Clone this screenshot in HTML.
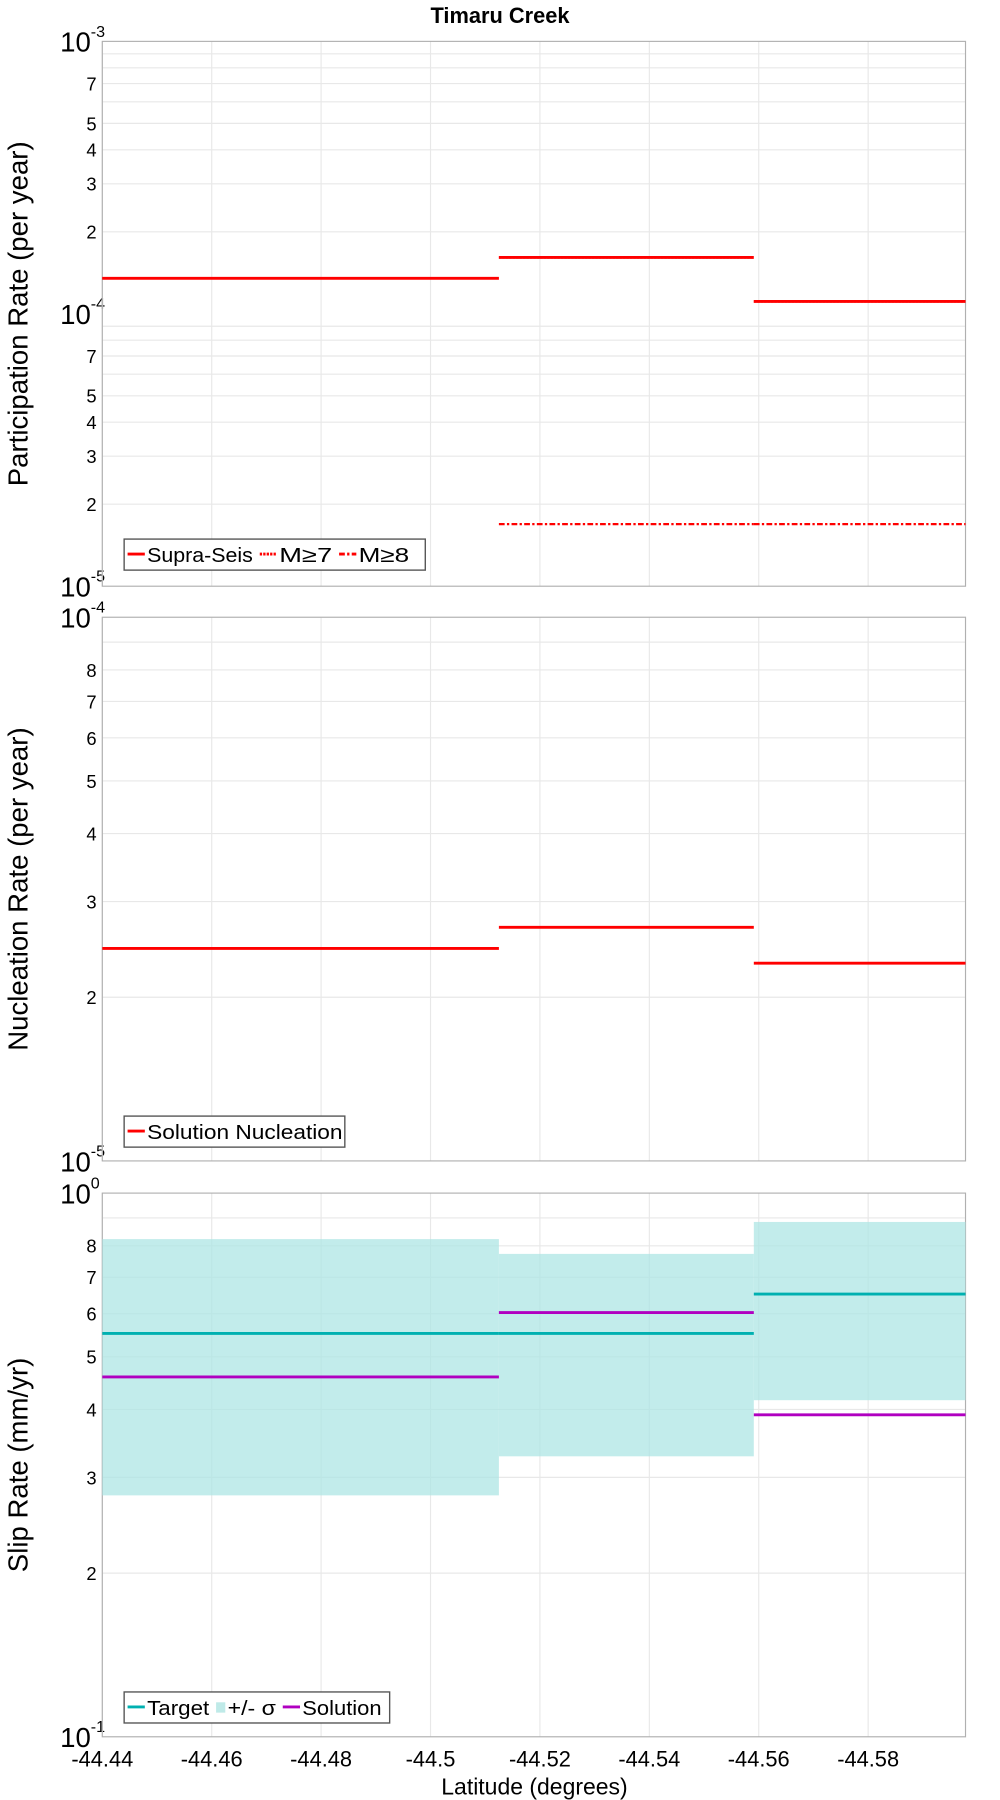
<!DOCTYPE html>
<html><head><meta charset="utf-8"><style>
html,body{margin:0;padding:0;background:#fff}
svg{display:block}
text{font-family:"Liberation Sans","DejaVu Sans",sans-serif;fill:#000}
</style></head><body>
<svg id="chart" width="1000" height="1800" viewBox="0 0 870 1566" preserveAspectRatio="none" xmlns="http://www.w3.org/2000/svg">
<text x="435" y="20" text-anchor="middle" font-size="19" font-weight="bold">Timaru Creek</text>
<g id="layer"></g>
</svg>
<script>
// ---- data ----
const segStart = [-44.44, -44.5125, -44.5591];
const segEnd = [-44.5125, -44.5591, -44.5978];
const xTicks = [-44.44, -44.46, -44.48, -44.5, -44.52, -44.54, -44.56, -44.58];
const xTickLabels = ["-44.44","-44.46","-44.48","-44.5","-44.52","-44.54","-44.56","-44.58"];
const supraSeis = [1.35e-4, 1.61e-4, 1.11e-4];
const m7 = [1.35e-4, 1.61e-4, 1.11e-4];
const m8 = [null, 1.69e-5, 1.69e-5];
const nucleation = [2.46e-5, 2.69e-5, 2.31e-5];
const slipTarget = [0.552, 0.552, 0.652];
const slipSolution = [0.459, 0.603, 0.391];
const slipUpper = [0.823, 0.773, 0.885];
const slipLower = [0.278, 0.328, 0.416];

const NS = "http://www.w3.org/2000/svg";
const layer = document.getElementById('layer');
function mk(tag, attrs, parent){ const e=document.createElementNS(NS,tag); for(const k in attrs) e.setAttribute(k,attrs[k]); (parent||layer).appendChild(e); return e; }

const L=89, R=840, X0=-44.44, X1=-44.5978;
function xs(v){ return L + (v-X0)/(X1-X0)*(R-L); }

function panel(top,bottom,lmin,lmax,labeled,yTitle,name){
  const g = mk('g',{});
  
  
  const ys = v => bottom - (Math.log10(v)-lmin)/(lmax-lmin)*(bottom-top);
  for(let d=lmin; d<lmax; d++){
    for(let m=1;m<=9;m++){
      const v=m*Math.pow(10,d); const y=ys(v);
      if(m>1){
        const gl=mk('line',{x1:L,x2:R,y1:y,y2:y,stroke:'#e8e8e8','stroke-width':1},g);
        
        
        if(labeled.includes(m)){
          const t=mk('text',{x:L-5,y:y+6,'text-anchor':'end','font-size':16},g);
          t.textContent=String(m);
          
          
        }
      }
    }
  }
  for(let d=lmin; d<=lmax; d++){
    const y=ys(Math.pow(10,d));
    const t=mk('text',{x:L-10,y:y+9,'text-anchor':'end','font-size':24},g);
    t.textContent='10';
    
    
    const s=mk('text',{x:L-10,y:y-4,'font-size':14},g);
    s.textContent=String(d);
    
    
  }
  xTicks.forEach(v=>{
    const x=xs(v);
    const gl=mk('line',{x1:x,x2:x,y1:top,y2:bottom,stroke:'#e8e8e8','stroke-width':1},g);
    
    
  });
  const fr=mk('rect',{x:L,y:top,width:R-L,height:bottom-top,fill:'none',stroke:'#b0b0b0','stroke-width':1},g);
  
  
  const cy=(top+bottom)/2;
  const yt=mk('text',{x:0,y:0,'text-anchor':'middle','font-size':24,transform:`translate(24,${cy}) rotate(-90)`},g);
  yt.textContent=yTitle;
  
  
  return {g,ys};
}
function seg(g,ys,vals,color,w,dash,name){
  vals.forEach((v,i)=>{
    if(v==null) return;
    const a={x1:xs(segStart[i]),x2:xs(segEnd[i]),y1:ys(v),y2:ys(v),stroke:color,'stroke-width':w};
    if(dash) a['stroke-dasharray']=dash;
    const l=mk('line',a,g);
    
    
  });
}
function legend(g,x,y,w,items){
  const r=mk('rect',{x:x,y:y,width:w,height:27,fill:'#fff',stroke:'#555','stroke-width':1.2},g);
  
  
  let cx=x+3;
  items.forEach(it=>{
    const sw = it.box ? mk('rect',{x:cx,y:y+9,width:8,height:9,fill:it.color},g)
      : mk('line',Object.assign({x1:cx,x2:cx+15,y1:y+13,y2:y+13,stroke:it.color,'stroke-width':2.5}, it.dash?{'stroke-dasharray':it.dash}:{}),g);
    
    
    cx += it.box?10:17;
    const t=mk('text',{x:cx,y:y+20,'font-size':18,textLength:it.tw-6,lengthAdjust:'spacingAndGlyphs'},g);
    t.textContent=it.label;
    
    
    cx += it.tw;
  });
}

// Panel 1
const p1=panel(36,510,-5,-3,[2,3,4,5,7],'Participation Rate (per year)','participation-panel');
seg(p1.g,p1.ys,supraSeis,'#ff0000',2.5,null,'supra-seis-line');
seg(p1.g,p1.ys,m7,'#ff0000',2,'2,1','m7-line');
seg(p1.g,p1.ys,m8,'#ff0000',2,'5,2,2,2','m8-line');
legend(p1.g,108,469,262,[{label:'Supra-Seis',color:'#f00',tw:98},{label:'M≥7',color:'#f00',dash:'2,1',tw:52},{label:'M≥8',color:'#f00',dash:'5,2,2,2',tw:50}]);

// Panel 2
const p2=panel(537,1010,-5,-4,[2,3,4,5,6,7,8],'Nucleation Rate (per year)','nucleation-panel');
seg(p2.g,p2.ys,nucleation,'#ff0000',2.5,null,'nucleation-line');
legend(p2.g,108,971,192,[{label:'Solution Nucleation',color:'#f00',tw:176}]);

// Panel 3
const p3=panel(1038,1511,-1,0,[2,3,4,5,6,7,8],'Slip Rate (mm/yr)','slip-rate-panel');
slipUpper.forEach((u,i)=>{
  const x1=xs(segStart[i]), x2=xs(segEnd[i]);
  const r=mk('rect',{x:x1,y:p3.ys(u),width:x2-x1,height:p3.ys(slipLower[i])-p3.ys(u),fill:'#aee6e4','fill-opacity':0.75},p3.g);
  
  
});
seg(p3.g,p3.ys,slipTarget,'#00b0b0',2.5,null,'target-line');
seg(p3.g,p3.ys,slipSolution,'#b000c0',2.5,null,'solution-line');
legend(p3.g,108,1472,231,[{label:'Target',color:'#00b0b0',tw:60},{label:'+/- σ',color:'#bfeae8',box:true,tw:48},{label:'Solution',color:'#b000c0',tw:75}]);

// x-axis labels
xTicks.forEach((v,i)=>{
  const t=mk('text',{x:xs(v),y:1537,'text-anchor':'middle','font-size':19});
  t.textContent=xTickLabels[i];
  
  
});
const xt=mk('text',{x:465,y:1561,'text-anchor':'middle','font-size':20});
xt.textContent='Latitude (degrees)';


</script>
</body></html>
